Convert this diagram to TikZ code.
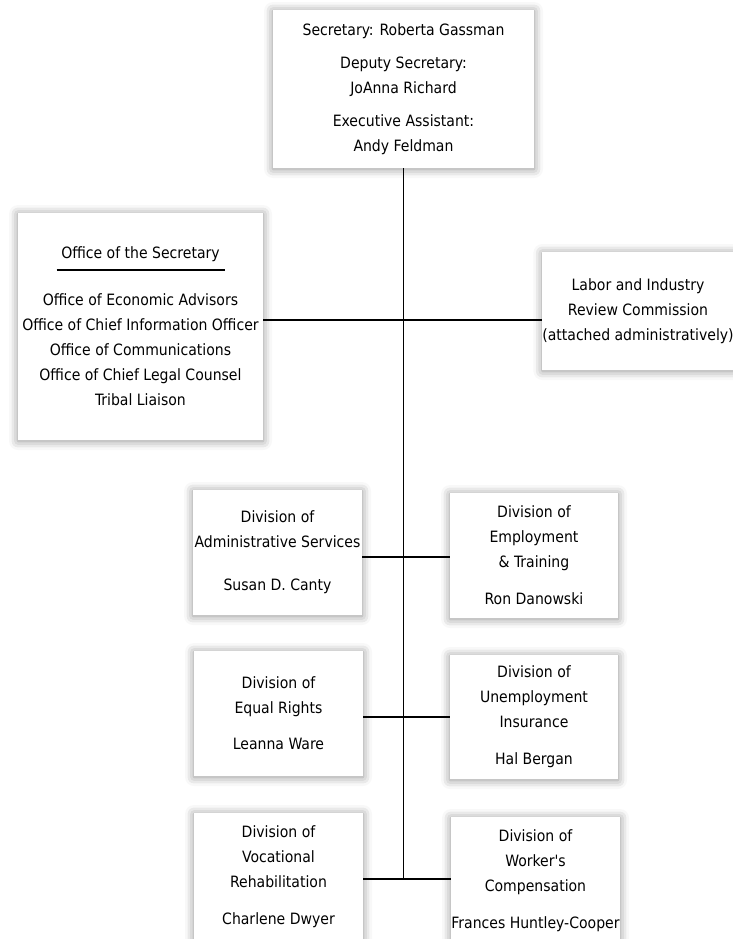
\documentclass[tikz,border=0pt]{standalone}
\usepackage{fontspec}
\setmainfont{DejaVu Sans Condensed}
\usetikzlibrary{shadows.blur}

\begin{document}
\begin{tikzpicture}[x=1pt,y=-1pt,
    every node/.style = {align=center, font=\fontsize{15.6}{25}\selectfont},
    unit/.style = {fill=white, inner sep=0pt, blur shadow={shadow xshift=0pt, shadow yshift=-1pt, shadow blur radius=9pt, shadow opacity=45}},
    link/.style = {line width=1.2pt}]
    \useasboundingbox (0,0) rectangle (732,939);
    \node[unit, minimum width=261pt, minimum height=158pt] (sec) at (403.5,89)
      {Secretary: Roberta Gassman\\[8pt] Deputy Secretary:\\ JoAnna Richard\\[8pt] Executive Assistant:\\ Andy Feldman};
    \node[unit, minimum width=245pt, minimum height=227pt] (ofc) at (140.5,326.5)
      {Office of the Secretary\\[-13pt] \rule{168pt}{1.6pt}\\[10pt] Office of Economic Advisors\\ Office of Chief Information Officer\\
       Office of Communications\\ Office of Chief Legal Counsel\\ Tribal Liaison};
    \node[unit, minimum width=188pt, minimum height=118pt] (lirc) at (638,311)
      {Labor and Industry\\ Review Commission\\ (attached administratively)};
    \node[unit, minimum width=169pt, minimum height=125pt] (admin) at (277.5,552.5)
      {Division of\\ Administrative Services\\[18pt] Susan D. Canty};
    \node[unit, minimum width=168pt, minimum height=125pt] (emp) at (534,555.5)
      {Division of\\ Employment\\ \& Training\\[12pt] Ron Danowski};
    \node[unit, minimum width=169pt, minimum height=125pt] (eqr) at (278.5,713.5)
      {Division of\\ Equal Rights\\[11pt] Leanna Ware};
    \node[unit, minimum width=168pt, minimum height=124pt] (ui) at (534,717)
      {Division of\\ Unemployment\\ Insurance\\[12pt] Hal Bergan};
    \node[unit, minimum width=169pt, minimum height=127pt] (voc) at (278.5,876.5)
      {Division of\\ Vocational\\ Rehabilitation\\[12pt] Charlene Dwyer};
    \node[unit, minimum width=169pt, minimum height=127pt] (wc) at (535.5,880.5)
      {Division of\\ Worker\XeTeXglyph\XeTeXcharglyph"27 s\\ Compensation\\[12pt] Frances Huntley-Cooper};
    \coordinate (j1) at (403.5,320);
    \coordinate (j2) at (403.5,557);
    \coordinate (j3) at (403.5,717);
    \coordinate (j4) at (403.5,879);
    \draw[link] (sec.south) -- (j4);
    \draw[link] (ofc.east |- j1) -- (lirc.west |- j1);
    \draw[link] (admin.east |- j2) -- (emp.west |- j2);
    \draw[link] (eqr.east |- j3) -- (ui.west |- j3);
    \draw[link] (voc.east |- j4) -- (wc.west |- j4);
  \end{tikzpicture}
\end{document}
